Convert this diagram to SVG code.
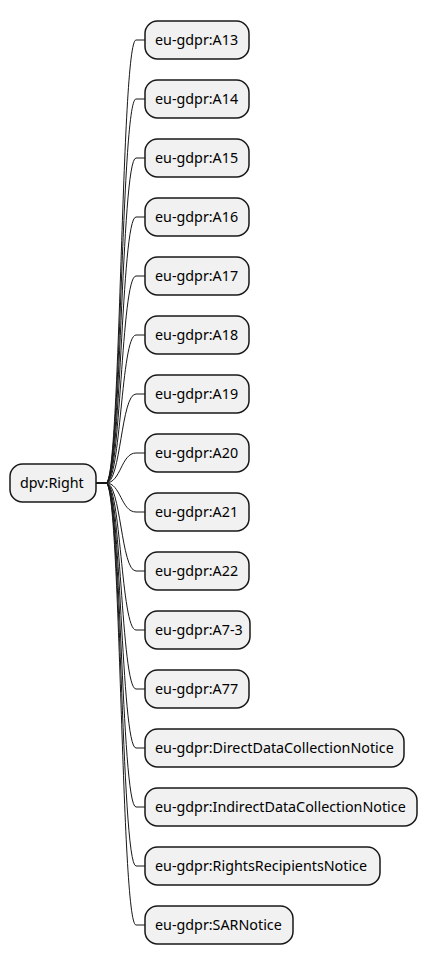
<svg xmlns="http://www.w3.org/2000/svg" width="428" height="966" viewBox="0 0 428 966">
<style>
.n{fill:#F1F1F1;stroke:#181818;stroke-width:1.5}
.t{font-family:"Noto Sans","Open Sans",sans-serif;font-size:14.3px;fill:#000}
.c{fill:none;stroke:#181818;stroke-width:1}
</style>
<rect width="428" height="966" fill="#FFFFFF"/>
<g id="connectors">
<path class="c" d="M96,483 L106,483 C121,483 121,40 136,40 L145,40"/>
<path class="c" d="M96,483 L106,483 C121,483 121,99 136,99 L145,99"/>
<path class="c" d="M96,483 L106,483 C121,483 121,158 136,158 L145,158"/>
<path class="c" d="M96,483 L106,483 C121,483 121,217 136,217 L145,217"/>
<path class="c" d="M96,483 L106,483 C121,483 121,276 136,276 L145,276"/>
<path class="c" d="M96,483 L106,483 C121,483 121,335 136,335 L145,335"/>
<path class="c" d="M96,483 L106,483 C121,483 121,394 136,394 L145,394"/>
<path class="c" d="M96,483 L106,483 C121,483 121,453 136,453 L145,453"/>
<path class="c" d="M96,483 L106,483 C121,483 121,512 136,512 L145,512"/>
<path class="c" d="M96,483 L106,483 C121,483 121,571 136,571 L145,571"/>
<path class="c" d="M96,483 L106,483 C121,483 121,630 136,630 L145,630"/>
<path class="c" d="M96,483 L106,483 C121,483 121,689 136,689 L145,689"/>
<path class="c" d="M96,483 L106,483 C121,483 121,748 136,748 L145,748"/>
<path class="c" d="M96,483 L106,483 C121,483 121,807 136,807 L145,807"/>
<path class="c" d="M96,483 L106,483 C121,483 121,866 136,866 L145,866"/>
<path class="c" d="M96,483 L106,483 C121,483 121,925 136,925 L145,925"/>
</g>
<g id="root"><rect class="n" x="10" y="464" width="86" height="38" rx="12.5"/><text class="t" x="20" y="488">dpv:Right</text></g>
<g id="n1"><rect class="n" x="145" y="21" width="104" height="38" rx="12.5"/><text class="t" x="155" y="45">eu-gdpr:A13</text></g>
<g id="n2"><rect class="n" x="145" y="80" width="104" height="38" rx="12.5"/><text class="t" x="155" y="104">eu-gdpr:A14</text></g>
<g id="n3"><rect class="n" x="145" y="139" width="104" height="38" rx="12.5"/><text class="t" x="155" y="163">eu-gdpr:A15</text></g>
<g id="n4"><rect class="n" x="145" y="198" width="104" height="38" rx="12.5"/><text class="t" x="155" y="222">eu-gdpr:A16</text></g>
<g id="n5"><rect class="n" x="145" y="257" width="104" height="38" rx="12.5"/><text class="t" x="155" y="281">eu-gdpr:A17</text></g>
<g id="n6"><rect class="n" x="145" y="316" width="104" height="38" rx="12.5"/><text class="t" x="155" y="340">eu-gdpr:A18</text></g>
<g id="n7"><rect class="n" x="145" y="375" width="104" height="38" rx="12.5"/><text class="t" x="155" y="399">eu-gdpr:A19</text></g>
<g id="n8"><rect class="n" x="145" y="434" width="104" height="38" rx="12.5"/><text class="t" x="155" y="458">eu-gdpr:A20</text></g>
<g id="n9"><rect class="n" x="145" y="493" width="104" height="38" rx="12.5"/><text class="t" x="155" y="517">eu-gdpr:A21</text></g>
<g id="n10"><rect class="n" x="145" y="552" width="104" height="38" rx="12.5"/><text class="t" x="155" y="576">eu-gdpr:A22</text></g>
<g id="n11"><rect class="n" x="145" y="611" width="105" height="38" rx="12.5"/><text class="t" x="155" y="635">eu-gdpr:A7-3</text></g>
<g id="n12"><rect class="n" x="145" y="670" width="104" height="38" rx="12.5"/><text class="t" x="155" y="694">eu-gdpr:A77</text></g>
<g id="n13"><rect class="n" x="145" y="729" width="259" height="38" rx="12.5"/><text class="t" x="155" y="753">eu-gdpr:DirectDataCollectionNotice</text></g>
<g id="n14"><rect class="n" x="145" y="788" width="272" height="38" rx="12.5"/><text class="t" x="155" y="812">eu-gdpr:IndirectDataCollectionNotice</text></g>
<g id="n15"><rect class="n" x="145" y="847" width="235" height="38" rx="12.5"/><text class="t" x="155" y="871">eu-gdpr:RightsRecipientsNotice</text></g>
<g id="n16"><rect class="n" x="145" y="906" width="148" height="38" rx="12.5"/><text class="t" x="155" y="930">eu-gdpr:SARNotice</text></g>
</svg>
